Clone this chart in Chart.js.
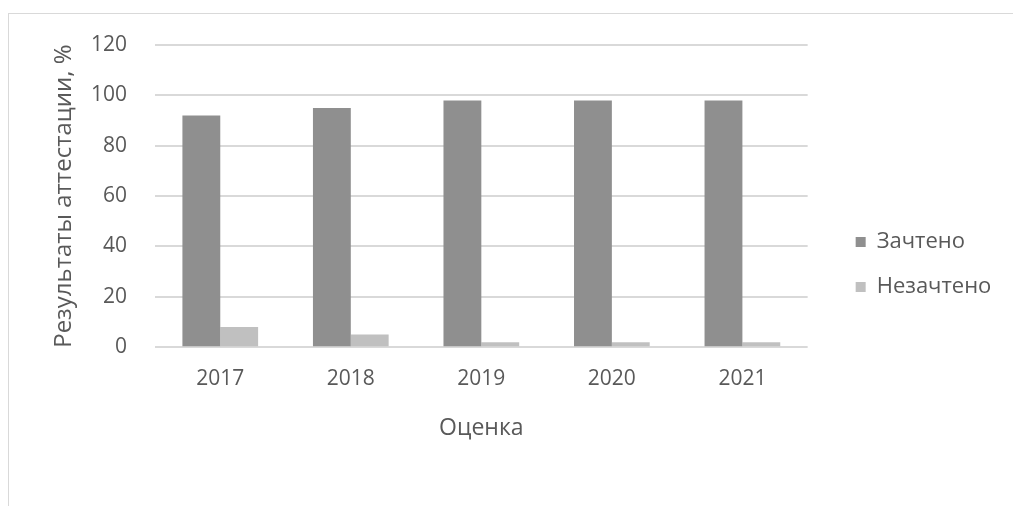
<!DOCTYPE html>
<html>
<head>
<meta charset="utf-8">
<script src="https://cdn.jsdelivr.net/npm/chart.js"></script>
<style>
  html, body { margin: 0; padding: 0; background: #fff; }
  #frame {
    position: absolute; left: 8px; top: 13px; width: 1020px; height: 520px;
    border-left: 1px solid #d9d9d9; border-top: 1px solid #d9d9d9;
  }
  #wrap { position: absolute; left: 0; top: 0; width: 1013px; height: 506px; }
</style>
</head>
<body>
<div id="frame"></div>
<div id="wrap"><canvas id="chart"></canvas></div>
<script>
// Chart data
const years = ['2017', '2018', '2019', '2020', '2021'];
const passed = [92, 95, 98, 98, 98];
const failed = [8, 5, 2, 2, 2];
const yTicks = [0, 20, 40, 60, 80, 100, 120];

const textColor = '#595959';
const family = '"Open Sans", sans-serif';

new Chart(document.getElementById('chart'), {
  type: 'bar',
  data: {
    labels: years,
    datasets: [
      { label: 'Зачтено', data: passed, backgroundColor: '#8f8f8f' },
      { label: 'Незачтено', data: failed, backgroundColor: '#c0c0c0' }
    ]
  },
  options: {
    responsive: true,
    maintainAspectRatio: false,
    animation: false,
    datasets: {
      bar: { barPercentage: 1, categoryPercentage: 0.58 }
    },
    layout: {
      padding: { left: 46, right: 23, top: 45, bottom: 22 }
    },
    plugins: {
      tooltip: { enabled: false },
      legend: {
        position: 'right',
        labels: {
          color: textColor,
          font: { family, size: 22 },
          boxWidth: 10,
          boxHeight: 10,
          padding: 23
        }
      }
    },
    scales: {
      x: {
        grid: { display: false, drawTicks: false },
        border: { display: false },
        ticks: { color: textColor, font: { family, size: 21 }, padding: 19 },
        title: {
          display: true,
          text: 'Оценка',
          color: textColor,
          font: { family, size: 23 },
          padding: { top: 4, bottom: 42 }
        }
      },
      y: {
        min: 0,
        max: 120,
        afterBuildTicks: (axis) => {
          axis.ticks = yTicks.map(v => ({ value: v }));
        },
        afterFit: (scale) => { scale.width = 109; },
        grid: { color: '#d9d9d9', lineWidth: 2, drawTicks: false },
        border: { display: false },
        ticks: { color: textColor, font: { family, size: 21 }, padding: 28 },
        title: {
          display: true,
          text: 'Результаты аттестации, %',
          color: textColor,
          font: { family, size: 24 },
          padding: { top: 4, bottom: 4 }
        }
      },
      // empty spacer between plot and legend
      gap: {
        position: 'right',
        grid: { display: false },
        border: { display: false },
        ticks: { display: false },
        afterFit: (scale) => { scale.width = 25; }
      }
    }
  }
});
</script>
</body>
</html>
